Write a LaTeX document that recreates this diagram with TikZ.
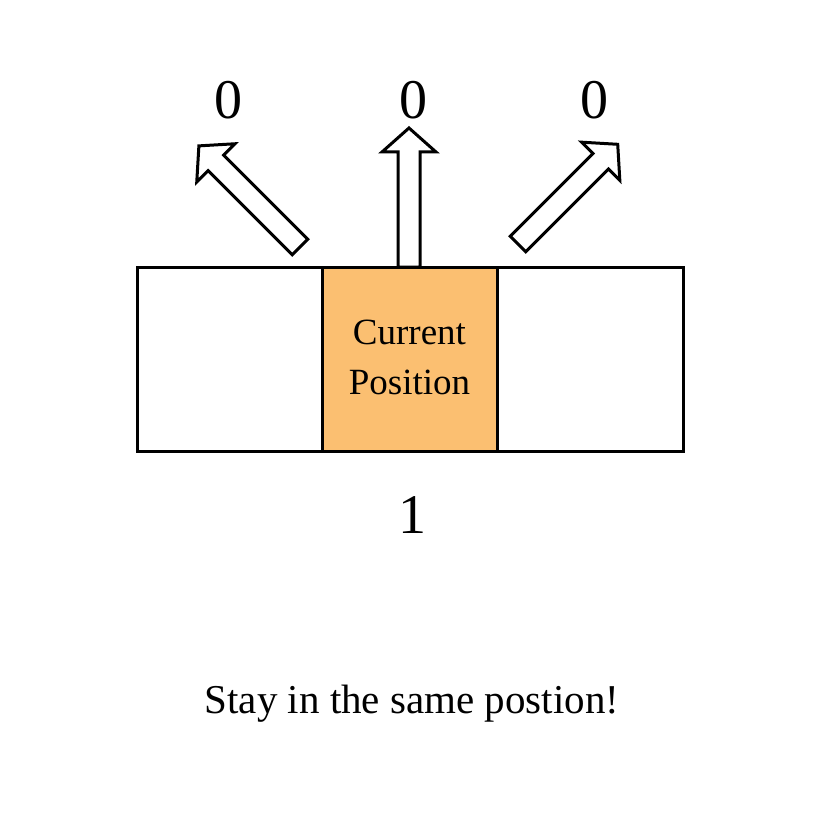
\documentclass[tikz,border=0pt]{standalone}
\usepackage{fontspec}
\setmainfont{Liberation Serif}
\definecolor{cellorange}{RGB}{251,191,113}
\newcommand\fatarr[4]{%
  \draw[fatarrow, shift={(#1,#2)}, rotate=#3]
    (0,-11) -- (#4-24,-11) -- (#4-24,-27) -- (#4,0) -- (#4-24,27) -- (#4-24,11) -- (0,11) -- cycle;}
\begin{document}
\begin{tikzpicture}[x=1pt,y=-1pt,
  cell/.style={draw=black, line width=3pt, minimum width=#1, minimum height=184pt, inner sep=0pt, outer sep=0pt, anchor=north west},
  fatarrow/.style={draw=black, fill=white, line width=3pt, line join=miter},
  bignum/.style={font=\fontsize{56}{60}\selectfont, anchor=base, inner sep=0pt},
  celltext/.style={font=\fontsize{37}{50}\selectfont, align=center, inner sep=0pt},
  caption/.style={font=\fontsize{41}{48}\selectfont, anchor=base, inner sep=0pt}]
\useasboundingbox[fill=white] (0,0) rectangle (824,834);
\node[cell=185pt] (left) at (137,267) {};
\node[cell=175pt, fill=cellorange] (mid) at (322,267) {};
\node[cell=186pt] (right) at (497,267) {};
\node[celltext] (curpos) at ([yshift=2pt]mid.center) {Current\\Position};
\fatarr{409}{267}{90}{139}
\fatarr{300}{247}{135}{143}
\fatarr{518}{244}{45}{141}
\node[bignum] (zl) at (228,119) {0};
\node[bignum] (zm) at (413,119) {0};
\node[bignum] (zr) at (594,119) {0};
\node[bignum] (one) at (412,533) {1};
\node[caption] (cap) at (412,713) {Stay in the same postion!};
\end{tikzpicture}
\end{document}
